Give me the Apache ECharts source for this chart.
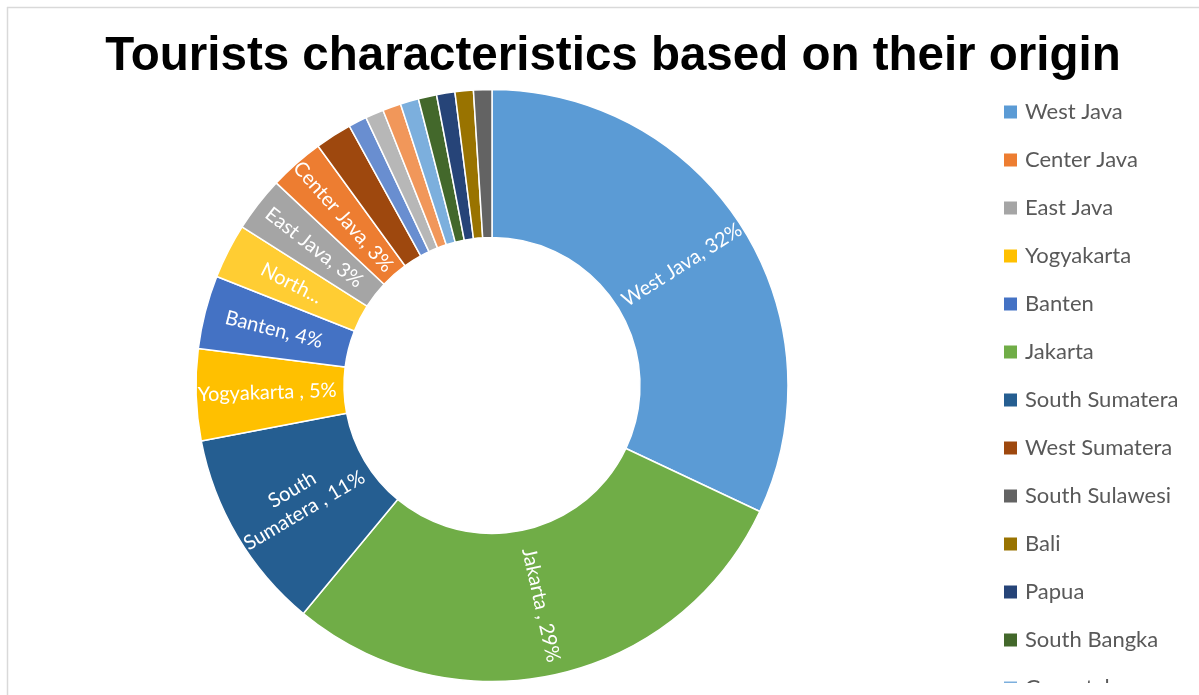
<!DOCTYPE html>
<html>
<head>
<meta charset="utf-8">
<script src="https://cdn.jsdelivr.net/npm/echarts@6/dist/echarts.min.js"></script>
<style>html,body{margin:0;padding:0;background:#fff;}#c{width:1199px;height:695px;}</style>
</head>
<body>
<div id="c"></div>
<script>
// Slices in drawing order (clockwise from 12 o'clock)
const categories = ['West Java','Jakarta','South Sumatera','Yogyakarta','Banten','North Sumatera','East Java','Center Java','West Sumatera','East Kalimantan','Riau','Lampung','Gorontalo','South Bangka','Papua','Bali','South Sulawesi'];
const values = [32,29,11,5,4,3,3,3,2,1,1,1,1,1,1,1,1];
const sliceLabels = ['West Java, 32%','Jakarta , 29%','South\nSumatera , 11%','Yogyakarta , 5%','Banten, 4%','North...','East Java, 3%','Center Java, 3%','','','','','','','','',''];
const colors = ['#5B9BD5','#70AD47','#255E91','#FFC000','#4472C4','#FFCD33','#A5A5A5','#ED7D31','#9E480E','#698ED0','#B7B7B7','#F1975A','#7CAFDD','#43682B','#264478','#997300','#636363'];
// Legend order (as in the source table)
const legendOrder = ['West Java','Center Java','East Java','Yogyakarta','Banten','Jakarta','South Sumatera','West Sumatera','South Sulawesi','Bali','Papua','South Bangka','Gorontalo','Lampung','Riau','North Sumatera','East Kalimantan'];
const titleText = 'Tourists characteristics based on their origin';

const chart = echarts.init(document.getElementById('c'), null, {renderer:'canvas'});
const data = categories.map((n,i)=>({
  name:n, value:values[i],
  itemStyle:{color:colors[i]},
  label: sliceLabels[i] ? {show:true, formatter: sliceLabels[i]} : {show:false}
}));
chart.setOption({
  backgroundColor:'#fff',
  animation:false,
  title:{
    text:titleText, left:608, top:28, textAlign:'center',
    textStyle:{fontFamily:'Liberation Sans, Arial, sans-serif', fontWeight:'bold', fontSize:47.5, color:'#000'}
  },
  legend:{
    orient:'vertical', left:997, top:96, height:2000,
    data:legendOrder, icon:'rect', itemWidth:15, itemHeight:15, itemGap:26,
    selectedMode:false,
    textStyle:{fontFamily:'Lato, sans-serif', fontSize:22, lineHeight:22, color:'#595959', padding:[0,0,0,2]}
  },
  graphic:[
    {type:'line', z:100, shape:{x1:7.5,y1:7,x2:7.5,y2:695}, style:{stroke:'#d9d9d9', lineWidth:1.5}},
    {type:'line', z:100, shape:{x1:7,y1:7.5,x2:1199,y2:7.5}, style:{stroke:'#d9d9d9', lineWidth:1.5}},
    {type:'rect', z:100, shape:{x:985,y:683,width:214,height:12}, style:{fill:'#fff'}}
  ],
  series:[{
    type:'pie', center:[492,385.5], radius:[148,296], startAngle:90, clockwise:true,
    avoidLabelOverlap:false, silent:true,
    itemStyle:{borderColor:'#fff', borderWidth:1.5},
    label:{position:'inside', rotate:'radial', color:'#fff', fontFamily:'Lato, sans-serif', fontSize:20, lineHeight:24},
    labelLine:{show:false},
    data:data
  }]
});
</script>
</body>
</html>
